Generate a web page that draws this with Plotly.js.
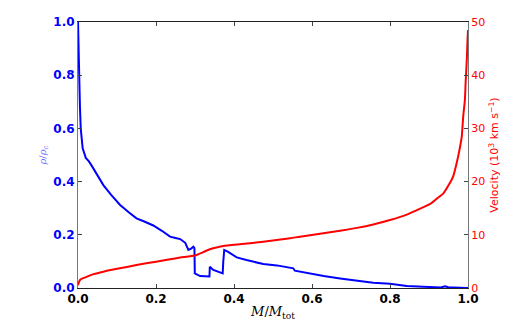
<!DOCTYPE html>
<html>
<head>
<meta charset="utf-8">
<script src="https://cdn.plot.ly/plotly-3.0.1.min.js"></script>
<style>
  html, body { margin: 0; padding: 0; background: #fff; }
  #chart { width: 520px; height: 321px; }
</style>
</head>
<body>
<div id="chart"></div>
<script>
// density profile, rho / rho_c against M / M_tot
var massRho = [0, 0.001, 0.0026, 0.005, 0.007, 0.0085, 0.012, 0.02, 0.028, 0.035, 0.05, 0.065, 0.085, 0.108, 0.13, 0.15, 0.17, 0.193, 0.215, 0.236, 0.25, 0.262, 0.275, 0.283, 0.29, 0.296, 0.2985, 0.2995, 0.313, 0.337, 0.3375, 0.338, 0.347, 0.371, 0.3725, 0.375, 0.385, 0.407, 0.432, 0.475, 0.51, 0.535, 0.552, 0.556, 0.569, 0.595, 0.63, 0.672, 0.72, 0.757, 0.8, 0.843, 0.885, 0.903, 0.93, 0.941, 0.95, 0.979, 1.0];
var rho = [1.0, 0.9, 0.8, 0.68, 0.60, 0.564, 0.525, 0.489, 0.476, 0.46, 0.426, 0.387, 0.35, 0.312, 0.285, 0.262, 0.25, 0.235, 0.215, 0.193, 0.188, 0.184, 0.17, 0.143, 0.148, 0.155, 0.15, 0.055, 0.045, 0.043, 0.06, 0.08, 0.068, 0.055, 0.1, 0.143, 0.136, 0.115, 0.105, 0.090, 0.085, 0.078, 0.074, 0.065, 0.061, 0.053, 0.045, 0.036, 0.028, 0.020, 0.016, 0.0075, 0.005, 0.003, 0.002, 0.006, 0.003, 0.001, 0.0];

// velocity profile, 10^3 km/s
var massVel = [0, 0.002, 0.005, 0.012, 0.022, 0.04, 0.065, 0.1, 0.15, 0.2, 0.236, 0.262, 0.3, 0.32, 0.338, 0.355, 0.373, 0.42, 0.475, 0.544, 0.569, 0.629, 0.672, 0.715, 0.757, 0.8, 0.843, 0.868, 0.903, 0.92, 0.937, 0.95, 0.962, 0.971, 0.979, 0.984, 0.988, 0.992, 0.994, 0.997, 0.999, 1.0];
var vel = [0.5, 1.0, 1.5, 1.8, 2.1, 2.6, 3.07, 3.6, 4.32, 4.95, 5.4, 5.72, 6.1, 6.7, 7.27, 7.6, 7.89, 8.25, 8.7, 9.34, 9.65, 10.28, 10.75, 11.3, 11.95, 12.78, 13.8, 14.6, 15.8, 16.8, 17.8, 19.3, 21.0, 23.5, 26.3, 28.5, 32.5, 35.3, 38.8, 43.0, 47.0, 48.5];

var xTicks = [0, 0.2, 0.4, 0.6, 0.8, 1.0];
var rhoTicks = [0, 0.2, 0.4, 0.6, 0.8, 1.0];
var velTicks = [0, 10, 20, 30, 40, 50];

var traceRho = {
  x: massRho, y: rho,
  type: 'scatter', mode: 'lines',
  line: {color: '#0000ff', width: 2},
  yaxis: 'y'
};
var traceVel = {
  x: massVel, y: vel,
  type: 'scatter', mode: 'lines',
  line: {color: '#ff0000', width: 2, shape: 'spline', smoothing: 0.5},
  yaxis: 'y2'
};

var layout = {
  width: 520, height: 321,
  margin: {l: 78, r: 52, t: 22, b: 33},
  paper_bgcolor: '#fff', plot_bgcolor: '#fff',
  showlegend: false,
  font: {family: 'DejaVu Sans', size: 11},
  xaxis: {
    range: [0, 1], tickvals: xTicks, tickformat: '.1f',
    ticks: 'inside', ticklen: 4, tickcolor: '#444',
    showline: true, linecolor: '#222', linewidth: 1, mirror: 'ticks',
    showgrid: false, zeroline: false,
    tickfont: {family: 'DejaVu Sans', size: 12, weight: 'bold', color: '#000'},
    title: {text: '<i>M</i>/<i>M</i><sub>tot</sub>', standoff: 3,
            font: {family: 'DejaVu Serif', size: 13, color: '#000'}}
  },
  yaxis: {
    range: [0, 1], tickvals: rhoTicks, tickformat: '.1f',
    ticks: 'inside', ticklen: 4, tickcolor: '#444',
    showline: true, linecolor: '#777', linewidth: 1,
    showgrid: false, zeroline: false,
    tickfont: {family: 'DejaVu Sans', size: 12, weight: 'bold', color: '#0000ff'},
    title: {text: '<i>ρ</i>/<i>ρ</i><sub>c</sub>', standoff: 4,
            font: {family: 'DejaVu Serif', size: 10, color: '#7070ff'}}
  },
  yaxis2: {
    range: [0, 50], tickvals: velTicks,
    overlaying: 'y', side: 'right',
    ticks: 'inside', ticklen: 4, tickcolor: '#444',
    showline: true, linecolor: '#777', linewidth: 1,
    showgrid: false, zeroline: false,
    tickfont: {family: 'DejaVu Sans', size: 11, color: '#ff0000'},
    title: {text: 'Velocity (10<sup>3</sup> km s<sup>−1</sup>)', standoff: 6,
            font: {family: 'DejaVu Sans', size: 11, color: '#ff0000'}}
  }
};

Plotly.newPlot('chart', [traceRho, traceVel], layout, {staticPlot: true, displayModeBar: false});
</script>
</body>
</html>
